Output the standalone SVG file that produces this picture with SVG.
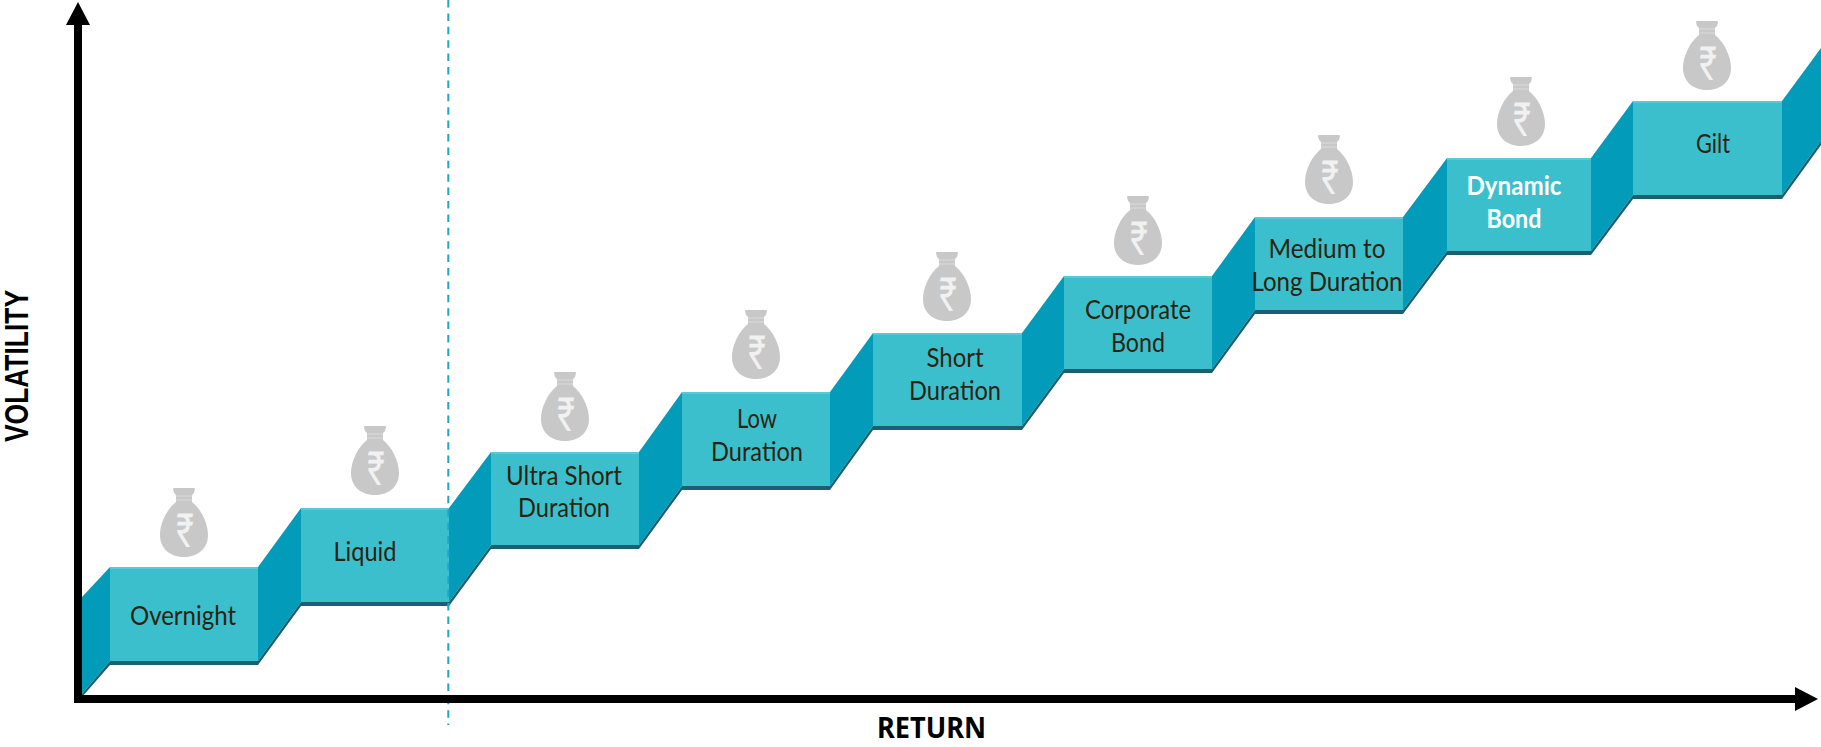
<svg xmlns="http://www.w3.org/2000/svg" width="1821" height="747" viewBox="0 0 1821 747">
<style>
.front{fill:#3cbfcc}
.hi{fill:#56cbd6}
.side{fill:#029cba}
.edge{fill:#1c5f70}
.bag{fill:#c8c8c8}
.rs{font-family:"Roboto",sans-serif;font-size:47px;fill:#f1f1f1;text-anchor:middle}
.lb{font-family:"Lato",sans-serif;font-size:26.5px;fill:#2b2310;text-anchor:middle}
.w{fill:#fff;font-weight:700}
.axis{font-weight:700;fill:#000;text-anchor:middle}
.ax{stroke:#000;stroke-width:8;fill:none}
.dash{stroke:#1ba8c6;stroke-width:2;stroke-dasharray:7.5 5.9;fill:none}
</style>
<defs>
<g id="sack">
<path class="bag" d="M-11 1Q-11 0-10 0H10Q11 0 11 1L10 5Q8 6 8 8V14C17 21 24 35 24 47C24 62 12 69 0 69C-12 69-24 62-24 47C-24 35-17 21-8 14V8Q-8 6-10 5Z"/>
<path d="M-8 8H8M-8 12H8" stroke="#dcdcdc" stroke-width="1" fill="none"/>
</g>
</defs>
<rect width="1821" height="747" fill="#fff"/>

<g id="step-overnight">
<polygon class="side" points="82,597 110,567 110,661 82,694"/>
<polygon class="edge" points="82,694 110,661 258,661 258,665 110,665 82,697"/>
<rect class="front" x="110" y="567" width="148" height="94"/><rect class="hi" x="110" y="567" width="148" height="2"/>
<use href="#sack" x="184" y="488"/><text class="rs" transform="translate(185 547) scale(.72 1)">₹</text>
<text class="lb" x="183" y="625" textLength="106" lengthAdjust="spacingAndGlyphs">Overnight</text>
</g>
<g id="step-liquid">
<polygon class="side" points="258,567 301,508 301,602 258,661"/>
<polygon class="edge" points="258,661 301,602 449,602 449,606 301,606 258,665"/>
<rect class="front" x="301" y="508" width="148" height="94"/><rect class="hi" x="301" y="508" width="148" height="2"/>
<use href="#sack" x="375" y="426"/><text class="rs" transform="translate(376 485) scale(.72 1)">₹</text>
<text class="lb" x="365" y="561" textLength="63" lengthAdjust="spacingAndGlyphs">Liquid</text>
</g>
<g id="step-ultra-short-duration">
<polygon class="side" points="449,508 491,452 491,545 449,602"/>
<polygon class="edge" points="449,602 491,545 639,545 639,549 491,549 449,606"/>
<rect class="front" x="491" y="452" width="148" height="93"/><rect class="hi" x="491" y="452" width="148" height="2"/>
<use href="#sack" x="565" y="372"/><text class="rs" transform="translate(566 431) scale(.72 1)">₹</text>
<text class="lb" x="564" y="485" textLength="116" lengthAdjust="spacingAndGlyphs">Ultra Short</text>
<text class="lb" x="564" y="517" textLength="92" lengthAdjust="spacingAndGlyphs">Duration</text>
</g>
<g id="step-low-duration">
<polygon class="side" points="639,452 682,392 682,486 639,545"/>
<polygon class="edge" points="639,545 682,486 830,486 830,490 682,490 639,549"/>
<rect class="front" x="682" y="392" width="148" height="94"/><rect class="hi" x="682" y="392" width="148" height="2"/>
<use href="#sack" x="756" y="310"/><text class="rs" transform="translate(757 369) scale(.72 1)">₹</text>
<text class="lb" x="757" y="428" textLength="40" lengthAdjust="spacingAndGlyphs">Low</text>
<text class="lb" x="757" y="460.5" textLength="92" lengthAdjust="spacingAndGlyphs">Duration</text>
</g>
<g id="step-short-duration">
<polygon class="side" points="830,392 873,333 873,426 830,486"/>
<polygon class="edge" points="830,486 873,426 1022,426 1022,430 873,430 830,490"/>
<rect class="front" x="873" y="333" width="149" height="93"/><rect class="hi" x="873" y="333" width="149" height="2"/>
<use href="#sack" x="947" y="252"/><text class="rs" transform="translate(948 311) scale(.72 1)">₹</text>
<text class="lb" x="955" y="367" textLength="57" lengthAdjust="spacingAndGlyphs">Short</text>
<text class="lb" x="955" y="399.5" textLength="92" lengthAdjust="spacingAndGlyphs">Duration</text>
</g>
<g id="step-corporate-bond">
<polygon class="side" points="1022,333 1064,276 1064,369 1022,426"/>
<polygon class="edge" points="1022,426 1064,369 1212,369 1212,373 1064,373 1022,430"/>
<rect class="front" x="1064" y="276" width="148" height="93"/><rect class="hi" x="1064" y="276" width="148" height="2"/>
<use href="#sack" x="1138" y="196"/><text class="rs" transform="translate(1139 255) scale(.72 1)">₹</text>
<text class="lb" x="1138" y="319" textLength="106" lengthAdjust="spacingAndGlyphs">Corporate</text>
<text class="lb" x="1138" y="352" textLength="54" lengthAdjust="spacingAndGlyphs">Bond</text>
</g>
<g id="step-medium-to-long-duration">
<polygon class="side" points="1212,276 1255,217 1255,310 1212,369"/>
<polygon class="edge" points="1212,369 1255,310 1403,310 1403,314 1255,314 1212,373"/>
<rect class="front" x="1255" y="217" width="148" height="93"/><rect class="hi" x="1255" y="217" width="148" height="2"/>
<use href="#sack" x="1329" y="135"/><text class="rs" transform="translate(1330 194) scale(.72 1)">₹</text>
<text class="lb" x="1327" y="258" textLength="117" lengthAdjust="spacingAndGlyphs">Medium to</text>
<text class="lb" x="1327" y="291" textLength="151" lengthAdjust="spacingAndGlyphs">Long Duration</text>
</g>
<g id="step-dynamic-bond">
<polygon class="side" points="1403,217 1447,158 1447,251 1403,310"/>
<polygon class="edge" points="1403,310 1447,251 1591,251 1591,255 1447,255 1403,314"/>
<rect class="front" x="1447" y="158" width="144" height="93"/><rect class="hi" x="1447" y="158" width="144" height="2"/>
<use href="#sack" x="1521" y="77"/><text class="rs" transform="translate(1522 136) scale(.72 1)">₹</text>
<text class="lb w" x="1514" y="195" textLength="95" lengthAdjust="spacingAndGlyphs">Dynamic</text>
<text class="lb w" x="1514" y="228" textLength="55" lengthAdjust="spacingAndGlyphs">Bond</text>
</g>
<g id="step-gilt">
<polygon class="side" points="1591,158 1633,101 1633,195 1591,251"/>
<polygon class="edge" points="1591,251 1633,195 1782,195 1782,199 1633,199 1591,255"/>
<rect class="front" x="1633" y="101" width="149" height="94"/><rect class="hi" x="1633" y="101" width="149" height="2"/>
<polygon class="side" points="1782,101 1821,48 1821,141 1782,195"/>
<polygon class="edge" points="1782,195 1821,141 1821,145 1782,199"/>
<use href="#sack" x="1707" y="21"/><text class="rs" transform="translate(1708 80) scale(.72 1)">₹</text>
<text class="lb" x="1713" y="153" textLength="34" lengthAdjust="spacingAndGlyphs">Gilt</text>
</g>

<g id="connectors">
<line class="dash" x1="448.3" y1="0" x2="448.3" y2="725"/>
<line class="ax" x1="78" y1="24" x2="78" y2="703"/>
<polygon points="78,2 90,25 66,25" fill="#000"/>
<line class="ax" x1="74" y1="699" x2="1796" y2="699"/>
<polygon points="1818,699 1795,687 1795,711" fill="#000"/>
</g>

<g id="axis-labels">
<text class="axis" style="font-family:'Liberation Sans',sans-serif;font-size:33px" transform="translate(28 366) rotate(-90)" textLength="152" lengthAdjust="spacingAndGlyphs">VOLATILITY</text>
<text class="axis" style="font-family:'Noto Sans',sans-serif;font-size:29px" x="931.5" y="738" textLength="109" lengthAdjust="spacingAndGlyphs">RETURN</text>
</g>
</svg>
